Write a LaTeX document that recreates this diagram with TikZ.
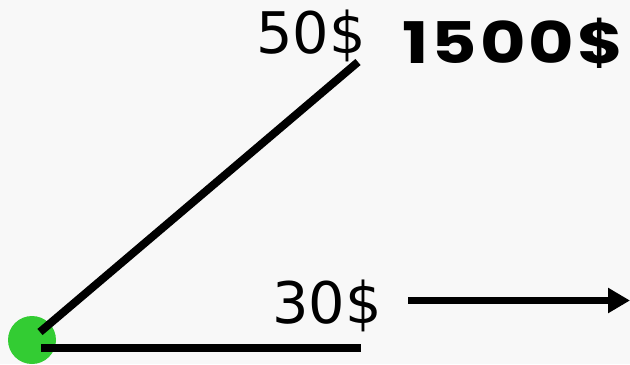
\documentclass[tikz,border=0pt]{standalone}
\usepackage{fontspec}
\usepackage{xcolor}
\usepackage{tikz}
\usetikzlibrary{arrows.meta,positioning}
\newfontfamily\pricefont{DejaVu Sans}
\newfontfamily\totalfont{Poppins}[UprightFont=* Bold, LetterSpace=4]
\definecolor{bgpaper}{HTML}{F8F8F8}
\definecolor{dotgreen}{HTML}{33CC33}

\begin{document}
\begin{tikzpicture}[
    x=0.75pt, y=-0.75pt,
    dot/.style={circle, fill=dotgreen, minimum size=36pt, inner sep=0pt},
    bar/.style={line width=6pt, draw=black},
    price/.style={anchor=base, inner sep=0pt, font=\pricefont\fontsize{43}{43}\selectfont},
    total/.style={anchor=base, inner sep=0pt, font=\totalfont\fontsize{43}{43}\selectfont},
    arrow/.style={-{Triangle[length=16.5pt, width=18pt]}, line width=5.5pt, draw=black},
  ]
  \fill[bgpaper] (0,0) rectangle (630,364);
  \useasboundingbox (0,0) rectangle (630,364);

  % start point and the two legs
  \node[dot] (origin) at (32,340) {};
  \coordinate (upperEnd) at (358,62);
  \coordinate (lowerEnd) at (361,348);
  \draw[bar] ([shift={(8,-8)}]origin.center) -- (upperEnd);
  \draw[bar] ([shift={(9,8)}]origin.center) -- (lowerEnd);

  % prices
  \node[price] (priceUp) at (311,53) {50\$};
  \node[total] (totalUp) at (513,63) {\scalebox{1.22}[1]{1500\$}};
  \node[price] (priceLow) at (327,323) {30\$};

  % arrow to the right
  \coordinate (arrowStart) at (408,300.5);
  \coordinate (arrowEnd) at (630,300.5);
  \draw[arrow] (arrowStart) -- (arrowEnd);
\end{tikzpicture}
\end{document}
